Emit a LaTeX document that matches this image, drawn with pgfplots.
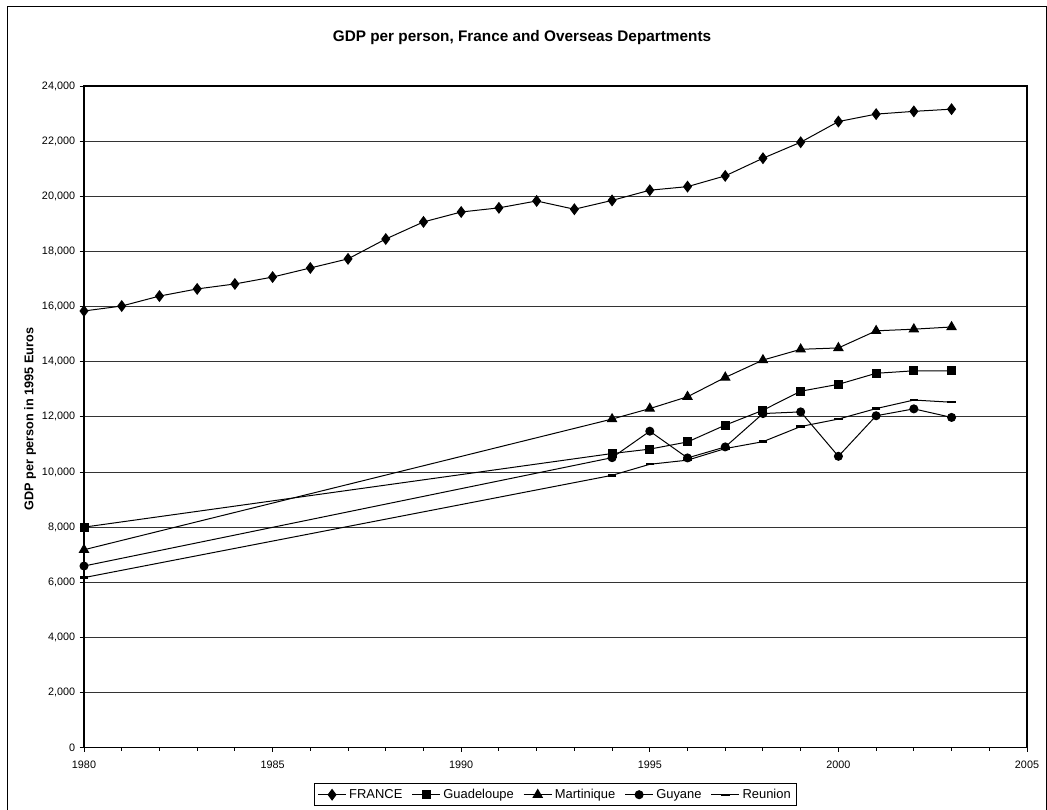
\documentclass[border=0pt]{standalone}
\usepackage{fontspec}
\setmainfont{Liberation Sans}
\usepackage{pgfplots}
\usepackage{pgfplotstable}
\pgfplotsset{compat=1.18}

\pgfplotstableread{
year gdp
1980 15840
1981 16020
1982 16380
1983 16640
1984 16820
1985 17070
1986 17400
1987 17730
1988 18450
1989 19070
1990 19430
1991 19580
1992 19830
1993 19530
1994 19850
1995 20220
1996 20350
1997 20740
1998 21380
1999 21960
2000 22710
2001 22980
2002 23080
2003 23160
}\france

\pgfplotstableread{
year gdp
1980 8000
1994 10670
1995 10830
1996 11090
1997 11700
1998 12240
1999 12930
2000 13180
2001 13580
2002 13670
2003 13670
}\guadeloupe

\pgfplotstableread{
year gdp
1980 7180
1994 11920
1995 12300
1996 12730
1997 13430
1998 14060
1999 14450
2000 14500
2001 15120
2002 15180
2003 15260
}\martinique

\pgfplotstableread{
year gdp
1980 6590
1994 10520
1995 11480
1996 10510
1997 10910
1998 12120
1999 12180
2000 10570
2001 12040
2002 12290
2003 11980
}\guyane

\pgfplotstableread{
year gdp
1980 6170
1994 9880
1995 10280
1996 10430
1997 10850
1998 11100
1999 11650
2000 11920
2001 12300
2002 12610
2003 12530
}\reunion

\begin{document}
\begin{tikzpicture}
\useasboundingbox (0,0) rectangle (785.25pt,607.5pt);
% outer chart frame
\draw[line width=1.4pt] (5.6pt,-10pt) -- (5.6pt,602.6pt) -- (784.9pt,602.6pt) -- (784.9pt,-10pt);

\begin{axis}[
    at={(63pt,46.7pt)}, anchor=south west,
    width=707.25pt, height=496.3pt, scale only axis,
    xmin=1980, xmax=2005, ymin=0, ymax=24000,
    xtick={1980,1985,...,2005}, minor x tick num=4,
    ytick={0,2000,...,24000},
    ymajorgrids,
    major grid style={black!80, line width=0.75pt},
    axis line style={line width=1.1pt},
    tick style={black, line width=0.7pt},
    tick align=outside, tick pos=left,
    major tick length=3.2pt, minor tick length=2.4pt,
    scaled ticks=false,
    tick label style={font=\fontsize{8.1}{9}\selectfont},
    /pgf/number format/assume math mode=true,
    yticklabel style={/pgf/number format/fixed, /pgf/number format/1000 sep={,}},
    xticklabel style={/pgf/number format/1000 sep={}, yshift=-3pt},
    legend columns=5,
    legend style={at={(0.5,0)}, anchor=center, yshift=-35.25pt,
        draw=black, line width=0.75pt, inner sep=2pt,
        font=\fontsize{9.7}{11}\selectfont,
        /tikz/every even column/.append style={column sep=5pt}},
    legend cell align=left,
    legend image code/.code={\draw[mark repeat=2,mark phase=2] plot coordinates {(0pt,0pt)(10.5pt,0pt)(21pt,0pt)};},
]
\addplot[black, line width=0.75pt, mark=diamond*, mark size=3.9pt, mark options={solid, fill=black}] table[x=year,y=gdp] {\france};
\addlegendentry{FRANCE}
\addplot[black, line width=0.75pt, mark=square*, mark size=3pt, mark options={solid, fill=black}] table[x=year,y=gdp] {\guadeloupe};
\addlegendentry{Guadeloupe}
\addplot[black, line width=0.75pt, mark=triangle*, mark size=3.9pt, mark options={solid, fill=black}] table[x=year,y=gdp] {\martinique};
\addlegendentry{Martinique}
\addplot[black, line width=0.75pt, mark=*, mark size=3pt, mark options={solid, fill=black}] table[x=year,y=gdp] {\guyane};
\addlegendentry{Guyane}
\addplot[black, line width=0.75pt, mark=-, mark size=3.2pt, mark options={solid, line width=1.8pt}] table[x=year,y=gdp] {\reunion};
\addlegendentry{Reunion}
\end{axis}

\node[font=\bfseries\fontsize{11.5}{13}\selectfont] at (391.5pt,579pt) {GDP per person, France and Overseas Departments};
\node[font=\bfseries\fontsize{9.5}{11}\selectfont, rotate=90] at (22.5pt,293.25pt) {GDP per person in 1995 Euros};
\end{tikzpicture}
\end{document}
